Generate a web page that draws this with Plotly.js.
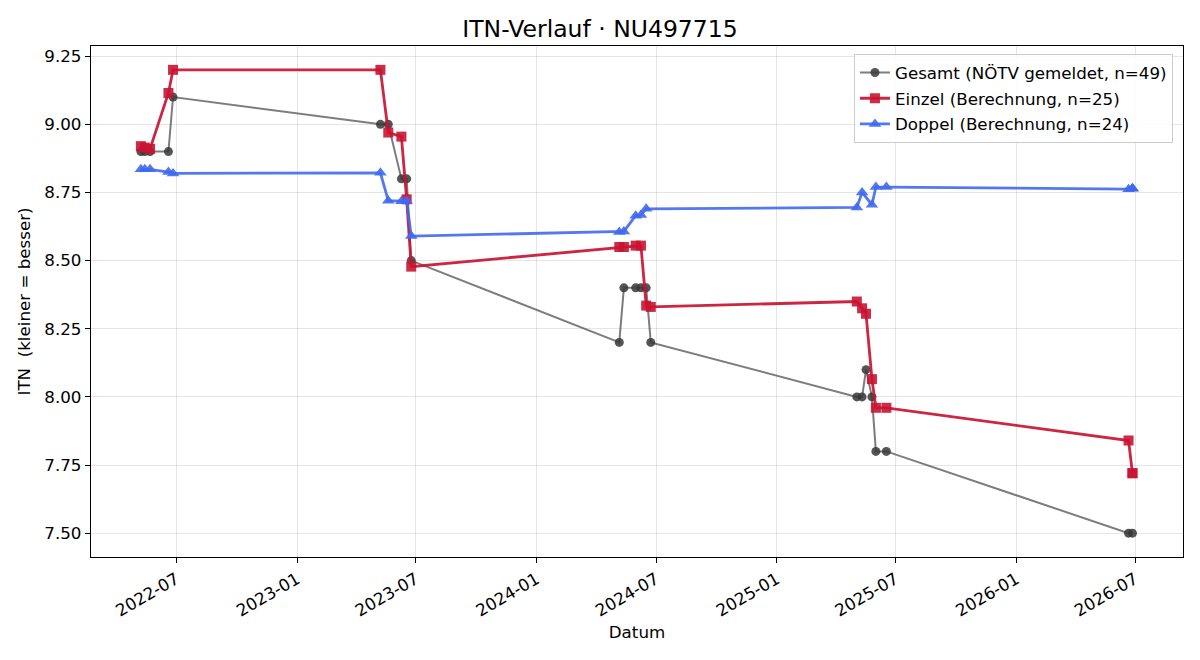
<!DOCTYPE html>
<html>
<head>
<meta charset="utf-8">
<script src="https://cdn.plot.ly/plotly-3.0.1.min.js"></script>
<style>
  html, body { margin: 0; padding: 0; background: #fff; }
  #chart { width: 1200px; height: 660px; }
</style>
</head>
<body>
<div id="chart"></div>
<script>
// ITN history of player NU497715: reported overall value plus computed singles/doubles values

const gesamtDates = [
  '2022-05-08', '2022-05-14', '2022-05-22', '2022-06-19', '2022-06-26',
  '2023-05-08', '2023-05-20', '2023-06-09', '2023-06-17', '2023-06-24',
  '2024-05-06', '2024-05-13', '2024-05-31', '2024-06-08', '2024-06-16', '2024-06-23',
  '2025-05-03', '2025-05-11', '2025-05-17', '2025-05-26', '2025-06-01', '2025-06-17',
  '2026-06-21', '2026-06-27'
];
const gesamtValues = [
  8.90, 8.90, 8.90, 8.90, 9.10,
  9.00, 9.00, 8.80, 8.80, 8.50,
  8.20, 8.40, 8.40, 8.40, 8.40, 8.20,
  8.00, 8.00, 8.10, 8.00, 7.80, 7.80,
  7.50, 7.50
];

const einzelDates = [
  '2022-05-08', '2022-05-14', '2022-05-22', '2022-06-19', '2022-06-26',
  '2023-05-08', '2023-05-20', '2023-06-09', '2023-06-17', '2023-06-24',
  '2024-05-06', '2024-05-13', '2024-05-31', '2024-06-08', '2024-06-16', '2024-06-23',
  '2025-05-03', '2025-05-11', '2025-05-17', '2025-05-26', '2025-06-01', '2025-06-17',
  '2026-06-21', '2026-06-27', '2026-06-27'
];
const einzelValues = [
  8.92, 8.915, 8.91, 9.115, 9.20,
  9.20, 8.97, 8.955, 8.725, 8.478,
  8.55, 8.55, 8.555, 8.555, 8.335, 8.33,
  8.35, 8.325, 8.305, 8.065, 7.96, 7.96,
  7.84, 7.72, 7.72
];

const doppelDates = [
  '2022-05-08', '2022-05-14', '2022-05-22', '2022-06-19', '2022-06-26',
  '2023-05-08', '2023-05-20', '2023-06-09', '2023-06-17', '2023-06-24',
  '2024-05-06', '2024-05-13', '2024-05-31', '2024-06-08', '2024-06-16',
  '2025-05-03', '2025-05-11', '2025-05-26', '2025-06-01', '2025-06-17',
  '2026-06-21', '2026-06-27', '2026-06-27', '2026-06-27'
];
const doppelValues = [
  8.835, 8.835, 8.835, 8.825, 8.82,
  8.822, 8.72, 8.718, 8.72, 8.59,
  8.605, 8.607, 8.665, 8.667, 8.69,
  8.695, 8.75, 8.705, 8.77, 8.77,
  8.762, 8.765, 8.765, 8.765
];

const seriesNames = [
  'Gesamt (NÖTV gemeldet, n=49)',
  'Einzel (Berechnung, n=25)',
  'Doppel (Berechnung, n=24)'
];

const FONT = 'DejaVu Sans, Liberation Sans, sans-serif';
const BASE = 16.7;

const traces = [
  {
    x: gesamtDates, y: gesamtValues, name: seriesNames[0], legendgroup: 'g',
    type: 'scatter', mode: 'lines+markers',
    line: { color: 'rgba(70,70,70,0.7)', width: 2 },
    marker: { symbol: 'circle', size: 9, color: 'rgba(55,55,55,0.85)', line: { width: 0 } }
  },
  {
    x: einzelDates, y: einzelValues, name: seriesNames[1], legendgroup: 'e',
    type: 'scatter', mode: 'lines+markers',
    line: { color: 'rgba(200,20,50,0.92)', width: 2.8 },
    marker: { symbol: 'square', size: 10, color: 'rgba(200,20,50,0.9)', line: { width: 0 } }
  },
  {
    x: doppelDates, y: doppelValues, name: seriesNames[2], legendgroup: 'd',
    type: 'scatter', mode: 'lines+markers',
    line: { color: 'rgba(65,105,240,0.9)', width: 2.8 },
    marker: { symbol: 'triangle-up', size: 11, color: 'rgba(65,105,240,0.9)', line: { width: 0 } }
  }
];

const layout = {
  width: 1200, height: 660,
  margin: { l: 91, r: 17, t: 46, b: 103 },
  paper_bgcolor: '#fff', plot_bgcolor: '#fff',
  font: { family: FONT, size: BASE, color: '#000' },
  title: { text: 'ITN-Verlauf · NU497715', font: { family: FONT, size: 23.5, color: '#000' },
           x: 0.5, xanchor: 'center', y: 0.957, yanchor: 'middle' },
  showlegend: true,
  legend: {
    x: 0.9908, xanchor: 'right', y: 0.984, yanchor: 'top',
    bgcolor: 'rgba(255,255,255,0.85)', bordercolor: '#cccccc', borderwidth: 1,
    font: { family: FONT, size: BASE, color: '#000' },
    tracegroupgap: 1
  },
  xaxis: {
    type: 'date',
    range: ['2022-02-21', '2026-09-12'],
    tick0: '2022-01-01', dtick: 'M6', tickformat: '%Y-%m',
    tickangle: -30,
    tickfont: { family: FONT, size: BASE },
    ticks: 'outside', ticklen: 5, tickcolor: '#000', tickwidth: 1,
    showline: true, linecolor: '#000', linewidth: 1.2, mirror: true,
    showgrid: true, gridcolor: 'rgba(0,0,0,0.1)', gridwidth: 1,
    zeroline: false,
    title: { text: 'Datum', font: { family: FONT, size: BASE }, standoff: 6 }
  },
  yaxis: {
    range: [7.4125, 9.2875],
    tick0: 7.5, dtick: 0.25, tickformat: '.2f',
    tickfont: { family: FONT, size: BASE },
    ticks: 'outside', ticklen: 5, tickcolor: '#000', tickwidth: 1,
    showline: true, linecolor: '#000', linewidth: 1.2, mirror: true,
    showgrid: true, gridcolor: 'rgba(0,0,0,0.1)', gridwidth: 1,
    zeroline: false,
    title: { text: 'ITN\u00a0\u00a0(kleiner = besser)', font: { family: FONT, size: BASE }, standoff: 9 }
  }
};

Plotly.newPlot('chart', traces, layout, { displayModeBar: false, staticPlot: true });
</script>
</body>
</html>
